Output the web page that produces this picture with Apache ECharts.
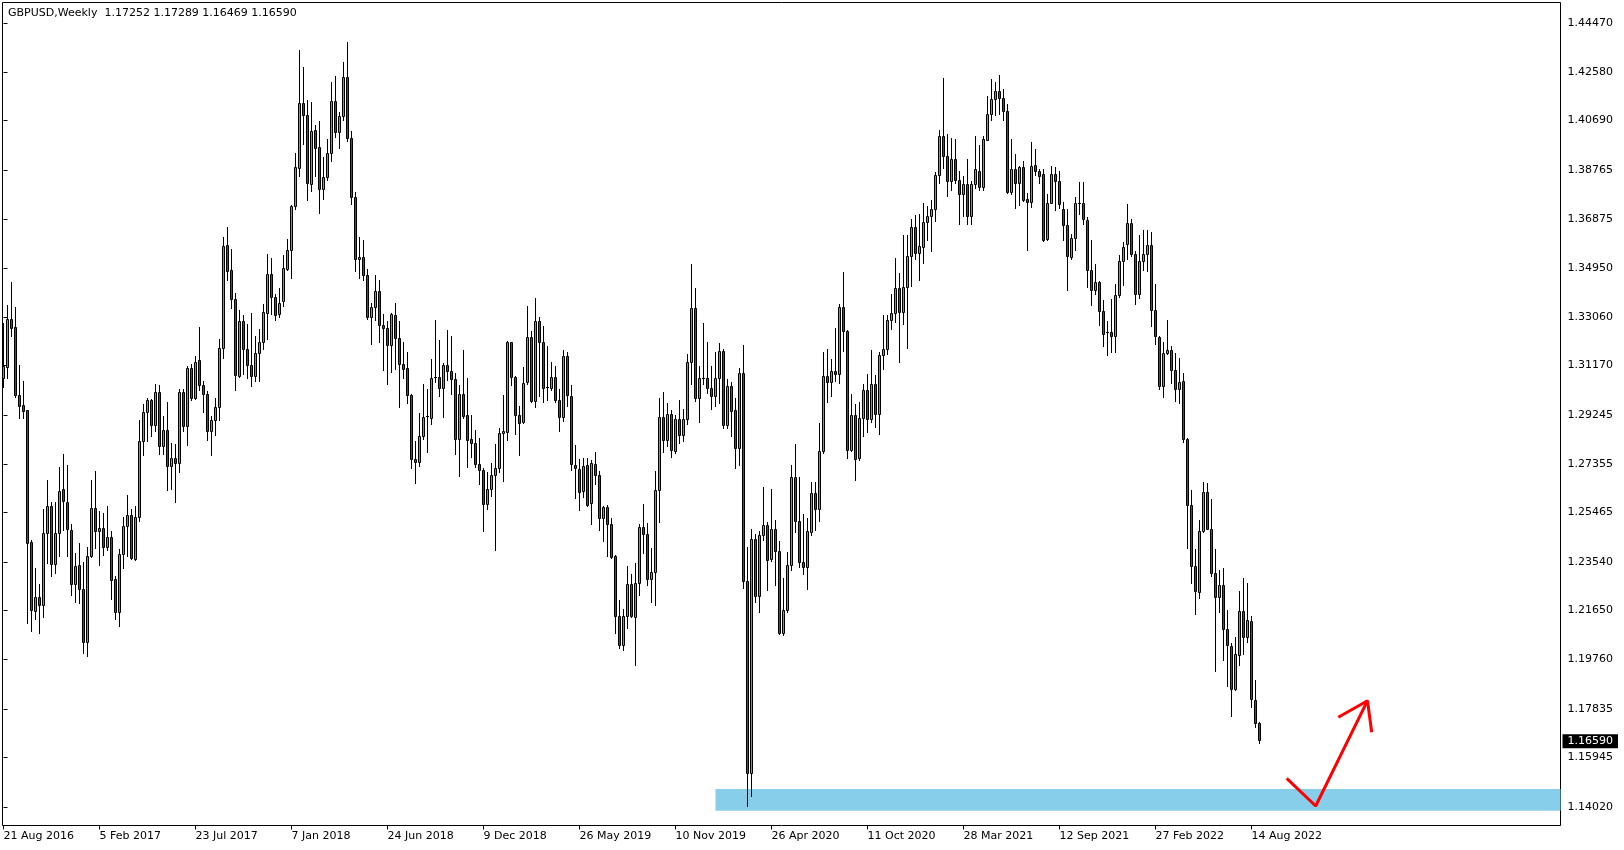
<!DOCTYPE html>
<html><head><meta charset="utf-8">
<script src="https://cdn.jsdelivr.net/npm/echarts@6/dist/echarts.min.js"></script>
<style>html,body{margin:0;padding:0;background:#fff}#c{width:1624px;height:850px}</style>
</head><body><div id="c"></div>
<script>
const headerText = 'GBPUSD,Weekly  1.17252 1.17289 1.16469 1.16590';
const lastClose = 1.16590;
const priceTicks = [1.44470,1.42580,1.40690,1.38765,1.36875,1.34950,1.33060,1.31170,1.29245,1.27355,1.25465,1.23540,1.21650,1.19760,1.17835,1.15945,1.14020];
const dateTicks = ['21 Aug 2016','5 Feb 2017','23 Jul 2017','7 Jan 2018','24 Jun 2018','9 Dec 2018','26 May 2019','10 Nov 2019','26 Apr 2020','11 Oct 2020','28 Mar 2021','12 Sep 2021','27 Feb 2022','14 Aug 2022'];
const weeksPerDateTick = 24;
const totalSlots = 389.25; // visible weekly slots incl. empty future space
// weekly candles [open, high, low, close], from week of 21 Aug 2016
const ohlc = [
[1.3067,1.3279,1.3033,1.3113],[1.3110,1.3352,1.3067,1.3297],[1.3297,1.3440,1.3232,1.3262],[1.3266,1.3343,1.2992,1.3000],
[1.3001,1.3119,1.2912,1.2959],[1.2963,1.3057,1.2912,1.2938],[1.2941,1.2944,1.2116,1.2426],[1.2430,1.2439,1.2083,1.2165],
[1.2162,1.2329,1.2129,1.2217],[1.2217,1.2267,1.2077,1.2184],[1.2184,1.2556,1.2138,1.2465],[1.2465,1.2669,1.2349,1.2570],
[1.2570,1.2586,1.2297,1.2345],[1.2345,1.2586,1.2310,1.2465],[1.2465,1.2722,1.2377,1.2628],[1.2634,1.2773,1.2478,1.2588],
[1.2586,1.2727,1.2375,1.2481],[1.2478,1.2498,1.2223,1.2267],[1.2267,1.2385,1.2196,1.2338],[1.2342,1.2426,1.2193,1.2248],
[1.2249,1.2351,1.2000,1.2042],[1.2042,1.2410,1.1988,1.2377],[1.2377,1.2669,1.2372,1.2560],[1.2560,1.2704,1.2407,1.2472],
[1.2472,1.2552,1.2340,1.2485],[1.2485,1.2543,1.2381,1.2410],[1.2410,1.2568,1.2398,1.2451],[1.2451,1.2472,1.2209,1.2281],
[1.2284,1.2297,1.2129,1.2157],[1.2157,1.2401,1.2103,1.2384],[1.2384,1.2527,1.2329,1.2491],[1.2491,1.2614,1.2375,1.2533],
[1.2533,1.2556,1.2362,1.2368],[1.2364,1.2571,1.2359,1.2527],[1.2527,1.2902,1.2511,1.2823],[1.2823,1.2966,1.2767,1.2935],
[1.2935,1.2990,1.2824,1.2982],[1.2982,1.2987,1.2841,1.2884],[1.2884,1.3044,1.2860,1.3013],[1.3013,1.3041,1.2772,1.2802],
[1.2802,1.2919,1.2772,1.2863],[1.2863,1.2974,1.2631,1.2724],[1.2724,1.2815,1.2634,1.2757],[1.2757,1.2811,1.2586,1.2737],
[1.2737,1.3025,1.2701,1.3013],[1.3013,1.3025,1.2860,1.2880],[1.2880,1.3113,1.2806,1.3104],[1.3104,1.3122,1.2983,1.2988],
[1.2988,1.3152,1.2985,1.3130],[1.3135,1.3266,1.3022,1.3039],[1.3041,1.3056,1.2934,1.3005],[1.3005,1.3018,1.2825,1.2860],
[1.2860,1.2919,1.2767,1.2903],[1.2903,1.2990,1.2847,1.2955],[1.2955,1.3220,1.2903,1.3184],[1.3184,1.3613,1.3143,1.3580],
[1.3584,1.3654,1.3447,1.3482],[1.3485,1.3569,1.3338,1.3375],[1.3375,1.3398,1.3022,1.3078],[1.3074,1.3333,1.3070,1.3290],
[1.3290,1.3310,1.3081,1.3180],[1.3180,1.3275,1.3065,1.3117],[1.3119,1.3318,1.3035,1.3074],[1.3074,1.3229,1.3055,1.3165],
[1.3165,1.3259,1.3055,1.3207],[1.3207,1.3355,1.3178,1.3324],[1.3320,1.3547,1.3217,1.3472],[1.3472,1.3534,1.3314,1.3382],
[1.3382,1.3395,1.3294,1.3311],[1.3316,1.3417,1.3303,1.3359],[1.3365,1.3543,1.3346,1.3495],[1.3492,1.3608,1.3488,1.3565],
[1.3565,1.3738,1.3455,1.3736],[1.3736,1.3942,1.3722,1.3887],[1.3883,1.4343,1.3851,1.4136],[1.4136,1.4276,1.3975,1.4088],
[1.4089,1.4148,1.3758,1.3824],[1.3821,1.4141,1.3793,1.4027],[1.4031,1.4048,1.3851,1.3961],[1.3965,1.4067,1.3709,1.3801],
[1.3801,1.3927,1.3763,1.3848],[1.3848,1.3994,1.3835,1.3940],[1.3940,1.4216,1.3909,1.4144],[1.4144,1.4242,1.4005,1.4023],
[1.4023,1.4102,1.3960,1.4084],[1.4084,1.4293,1.4071,1.4237],[1.4237,1.4373,1.3987,1.3999],[1.4000,1.4028,1.3744,1.3771],
[1.3771,1.3790,1.3482,1.3530],[1.3530,1.3615,1.3456,1.3538],[1.3538,1.3605,1.3447,1.3468],[1.3468,1.3489,1.3298,1.3303],
[1.3303,1.3359,1.3200,1.3343],[1.3343,1.3469,1.3294,1.3406],[1.3406,1.3446,1.3206,1.3272],[1.3271,1.3314,1.3097,1.3261],
[1.3262,1.3290,1.3044,1.3196],[1.3196,1.3318,1.3090,1.3314],[1.3312,1.3359,1.3100,1.3223],[1.3223,1.3290,1.2955,1.3122],
[1.3122,1.3207,1.3068,1.3103],[1.3106,1.3169,1.2970,1.2999],[1.2999,1.3003,1.2718,1.2753],[1.2753,1.2824,1.2660,1.2741],
[1.2741,1.2932,1.2724,1.2841],[1.2841,1.3042,1.2828,1.2916],[1.2916,1.3026,1.2779,1.2918],[1.2912,1.3142,1.2890,1.3067],
[1.3066,1.3294,1.3050,1.3071],[1.3071,1.3216,1.2996,1.3027],[1.3027,1.3126,1.2915,1.3118],[1.3116,1.3255,1.3061,1.3093],
[1.3096,1.3232,1.3003,1.3064],[1.3064,1.3087,1.2770,1.2830],[1.2830,1.3038,1.2688,1.3005],[1.3005,1.3174,1.2912,1.2918],
[1.2924,1.3067,1.2720,1.2825],[1.2830,1.2925,1.2759,1.2814],[1.2815,1.2863,1.2720,1.2732],[1.2731,1.2834,1.2654,1.2709],
[1.2710,1.2718,1.2472,1.2578],[1.2578,1.2702,1.2556,1.2636],[1.2636,1.2735,1.2610,1.2691],[1.2691,1.2812,1.2398,1.2718],
[1.2718,1.2871,1.2701,1.2854],[1.2854,1.2999,1.2666,1.2862],[1.2858,1.3210,1.2826,1.3207],[1.3205,1.3208,1.3038,1.3070],
[1.3071,1.3074,1.2850,1.2922],[1.2924,1.2957,1.2767,1.2893],[1.2895,1.3108,1.2893,1.3048],[1.3050,1.3348,1.3044,1.3227],
[1.3227,1.3250,1.2974,1.2977],[1.2977,1.3378,1.2953,1.3289],[1.3289,1.3304,1.2996,1.3207],[1.3208,1.3268,1.2973,1.3029],
[1.3031,1.3193,1.2981,1.3029],[1.3029,1.3129,1.3022,1.3071],[1.3071,1.3115,1.2973,1.2981],[1.2983,1.3025,1.2860,1.2916],
[1.2916,1.3174,1.2899,1.3153],[1.3153,1.3167,1.2960,1.3000],[1.2997,1.3038,1.2711,1.2731],[1.2729,1.2808,1.2601,1.2718],
[1.2715,1.2754,1.2553,1.2625],[1.2627,1.2757,1.2604,1.2724],[1.2727,1.2757,1.2569,1.2575],[1.2582,1.2750,1.2498,1.2736],
[1.2731,1.2780,1.2656,1.2689],[1.2691,1.2705,1.2476,1.2522],[1.2522,1.2571,1.2433,1.2566],[1.2566,1.2575,1.2375,1.2500],
[1.2500,1.2521,1.2368,1.2372],[1.2375,1.2381,1.2077,1.2141],[1.2141,1.2206,1.2018,1.2029],[1.2029,1.2171,1.2009,1.2141],
[1.2141,1.2336,1.2096,1.2268],[1.2268,1.2307,1.2138,1.2141],[1.2138,1.2349,1.1951,1.2271],[1.2270,1.2498,1.2225,1.2489],
[1.2489,1.2577,1.2385,1.2460],[1.2461,1.2502,1.2262,1.2287],[1.2287,1.2407,1.2198,1.2314],[1.2314,1.2705,1.2185,1.2632],
[1.2632,1.2989,1.2509,1.2915],[1.2915,1.3012,1.2780,1.2825],[1.2825,1.2971,1.2801,1.2927],[1.2927,1.2941,1.2761,1.2787],
[1.2784,1.2923,1.2777,1.2907],[1.2907,1.2982,1.2814,1.2846],[1.2846,1.2948,1.2821,1.2907],[1.2907,1.3162,1.2889,1.3129],
[1.3129,1.3511,1.3043,1.3339],[1.3339,1.3418,1.2979,1.2989],[1.2989,1.3115,1.2897,1.3068],[1.3064,1.3282,1.3043,1.3068],
[1.3068,1.3207,1.3009,1.3027],[1.3028,1.3115,1.2948,1.2997],[1.2997,1.3169,1.2957,1.3068],[1.3068,1.3203,1.2968,1.3173],
[1.3173,1.3180,1.2873,1.2884],[1.2884,1.3064,1.2873,1.3036],[1.3036,1.3050,1.2843,1.2938],[1.2941,1.2989,1.2719,1.2795],
[1.2795,1.3105,1.2730,1.3088],[1.3088,1.3197,1.2250,1.2280],[1.2280,1.2412,1.1404,1.1534],[1.1534,1.2482,1.1442,1.2442],
[1.2442,1.2461,1.2198,1.2219],[1.2219,1.2474,1.2157,1.2457],[1.2457,1.2645,1.2437,1.2497],[1.2497,1.2508,1.2242,1.2359],
[1.2364,1.2637,1.2355,1.2480],[1.2480,1.2515,1.2262,1.2396],[1.2396,1.2434,1.2071,1.2075],[1.2075,1.2291,1.2070,1.2167],
[1.2164,1.2389,1.2157,1.2339],[1.2339,1.2727,1.2321,1.2682],[1.2682,1.2809,1.2468,1.2512],[1.2512,1.2682,1.2334,1.2352],
[1.2352,1.2539,1.2307,1.2332],[1.2332,1.2523,1.2246,1.2471],[1.2468,1.2664,1.2457,1.2621],[1.2621,1.2664,1.2475,1.2557],
[1.2557,1.2893,1.2512,1.2784],[1.2784,1.3166,1.2777,1.3075],[1.3075,1.3180,1.2975,1.3053],[1.3053,1.3139,1.2998,1.3094],
[1.3094,1.3261,1.3054,1.3081],[1.3081,1.3354,1.3047,1.3343],[1.3343,1.3479,1.3170,1.3250],[1.3249,1.3255,1.2757,1.2787],
[1.2787,1.3003,1.2783,1.2925],[1.2925,1.2964,1.2670,1.2753],[1.2757,1.2975,1.2750,1.2912],[1.2912,1.3042,1.2841,1.3022],
[1.3022,1.3081,1.2857,1.2906],[1.2906,1.3174,1.2897,1.3042],[1.3042,1.3077,1.2876,1.2928],[1.2928,1.3167,1.2850,1.3158],
[1.3158,1.3310,1.3103,1.3180],[1.3180,1.3310,1.3162,1.3294],[1.3294,1.3395,1.3258,1.3320],[1.3318,1.3535,1.3284,1.3415],
[1.3415,1.3476,1.3128,1.3324],[1.3324,1.3622,1.3275,1.3421],[1.3421,1.3622,1.3183,1.3542],[1.3542,1.3683,1.3424,1.3654],
[1.3654,1.3702,1.3530,1.3553],[1.3553,1.3706,1.3447,1.3579],[1.3576,1.3745,1.3514,1.3674],[1.3674,1.3734,1.3605,1.3698],
[1.3698,1.3758,1.3560,1.3724],[1.3724,1.3867,1.3676,1.3854],[1.3854,1.4032,1.3825,1.4008],[1.4008,1.4233,1.3881,1.3929],
[1.3929,1.4013,1.3773,1.3832],[1.3832,1.4000,1.3797,1.3918],[1.3916,1.3996,1.3823,1.3836],[1.3836,1.3873,1.3665,1.3782],
[1.3782,1.3851,1.3698,1.3819],[1.3819,1.3916,1.3665,1.3696],[1.3696,1.3832,1.3665,1.3822],[1.3822,1.4006,1.3806,1.3877],
[1.3873,1.3974,1.3797,1.3808],[1.3808,1.4006,1.3797,1.3996],[1.3993,1.4164,1.3991,1.4091],[1.4091,1.4230,1.4071,1.4151],
[1.4151,1.4216,1.4088,1.4181],[1.4181,1.4246,1.4091,1.4155],[1.4155,1.4188,1.4069,1.4104],[1.4104,1.4130,1.3785,1.3789],
[1.3789,1.3996,1.3782,1.3880],[1.3877,1.3938,1.3727,1.3825],[1.3825,1.3892,1.3738,1.3887],[1.3887,1.3909,1.3754,1.3758],
[1.3761,1.3786,1.3566,1.3751],[1.3751,1.3983,1.3731,1.3892],[1.3895,1.3957,1.3854,1.3871],[1.3873,1.3877,1.3825,1.3851],
[1.3858,1.3877,1.3599,1.3605],[1.3608,1.3780,1.3605,1.3747],[1.3747,1.3890,1.3745,1.3860],[1.3858,1.3886,1.3721,1.3832],
[1.3831,1.3870,1.3729,1.3743],[1.3725,1.3750,1.3602,1.3661],[1.3661,1.3725,1.3407,1.3541],[1.3537,1.3626,1.3530,1.3612],
[1.3612,1.3772,1.3565,1.3746],[1.3746,1.3828,1.3704,1.3748],[1.3746,1.3827,1.3666,1.3683],[1.3680,1.3694,1.3421,1.3485],
[1.3485,1.3605,1.3351,1.3410],[1.3410,1.3510,1.3393,1.3438],[1.3438,1.3445,1.3273,1.3328],[1.3328,1.3369,1.3191,1.3239],
[1.3245,1.3287,1.3157,1.3242],[1.3247,1.3372,1.3167,1.3230],[1.3230,1.3432,1.3167,1.3389],[1.3389,1.3546,1.3383,1.3523],
[1.3523,1.3595,1.3428,1.3577],[1.3586,1.3743,1.3530,1.3668],[1.3668,1.3685,1.3541,1.3548],[1.3548,1.3562,1.3353,1.3393],
[1.3393,1.3623,1.3379,1.3523],[1.3523,1.3640,1.3485,1.3548],[1.3548,1.3640,1.3482,1.3584],[1.3584,1.3636,1.3269,1.3332],
[1.3332,1.3432,1.3199,1.3230],[1.3228,1.3230,1.3023,1.3035],[1.3035,1.3206,1.2994,1.3163],[1.3163,1.3294,1.3160,1.3177],
[1.3177,1.3191,1.3047,1.3099],[1.3099,1.3164,1.2976,1.3023],[1.3023,1.3146,1.2969,1.3051],[1.3057,1.3086,1.2818,1.2831],
[1.2831,1.2835,1.2407,1.2573],[1.2573,1.2633,1.2270,1.2337],[1.2337,1.2404,1.2149,1.2241],[1.2234,1.2517,1.2213,1.2474],
[1.2471,1.2662,1.2467,1.2623],[1.2623,1.2658,1.2479,1.2482],[1.2482,1.2595,1.2298,1.2309],[1.2309,1.2404,1.1928,1.2216],
[1.2216,1.2319,1.2157,1.2262],[1.2262,1.2330,1.1973,1.2090],[1.2090,1.2164,1.1870,1.2029],[1.2027,1.2036,1.1754,1.1860],
[1.1857,1.2062,1.1853,1.1994],[1.1990,1.2241,1.1952,1.2161],[1.2161,1.2291,1.1994,1.2060],[1.2060,1.2270,1.2041,1.2125],
[1.2124,1.2142,1.1789,1.1820],[1.1817,1.1895,1.1711,1.1726],[1.17252,1.17289,1.16469,1.16590]
];
// support zone (price band) starting at a week index, drawn to the right edge
const zoneTop = 1.14719, zoneBottom = 1.13875, zoneStartWeek = 178;
// hand-drawn red arrow, in [week index, price]
const arrowStroke = [[320.8,1.15135],[328.05,1.14058],[341.0,1.18150]];
const arrowHead = [[333.7,1.17505],[341.0,1.18150],[342.05,1.16922]];

const FONT = 'DejaVu Sans';
const UP = '#32cd32', DOWN = '#e01010';
const dateTickWeeks = dateTicks.map((_, k) => k * weeksPerDateTick);

const chart = echarts.init(document.getElementById('c'), null, {renderer: 'canvas'});
chart.setOption({
  animation: false,
  backgroundColor: '#ffffff',
  title: {text: headerText, left: 8, top: 8, padding: 0,
    textStyle: {fontFamily: FONT, fontSize: 11, fontWeight: 'normal', color: '#000'}},
  grid: {left: 2.5, top: 2.5, width: 1558, height: 823, show: true, borderColor: '#000', borderWidth: 1, backgroundColor: 'transparent'},
  xAxis: {type: 'value', min: -0.25, max: totalSlots,
    splitLine: {show: false}, axisLine: {show: false},
    axisTick: {show: true, length: 4, customValues: dateTickWeeks, lineStyle: {color: '#000'}},
    axisLabel: {customValues: dateTickWeeks, formatter: v => dateTicks[Math.round(v / weeksPerDateTick)] || '',
      align: 'left', margin: 5, color: '#000', fontFamily: FONT, fontSize: 11, showMinLabel: true, showMaxLabel: true}},
  yAxis: {type: 'value', position: 'right', min: 1.13301, max: 1.45278,
    splitLine: {show: false}, axisLine: {show: false},
    axisTick: {show: true, length: 4, customValues: priceTicks, lineStyle: {color: '#000'}},
    axisLabel: {customValues: priceTicks, formatter: v => v.toFixed(5), margin: 7, color: '#000', fontFamily: FONT, fontSize: 11}},
  series: [
    {type: 'line', name: 'zone', data: [], z: 1, silent: true,
      markArea: {silent: true, itemStyle: {color: '#87ceeb', opacity: 1},
        data: [[{xAxis: zoneStartWeek, yAxis: zoneTop}, {xAxis: totalSlots, yAxis: zoneBottom}]]}},
    {type: 'custom', name: 'GBPUSD', z: 3, silent: true,
      data: ohlc.map((r, i) => [i, r[0], r[1], r[2], r[3]]),
      encode: {x: 0, y: [1, 2, 3, 4]},
      renderItem: function (params, api) {
        const i = api.value(0), o = api.value(1), h = api.value(2), l = api.value(3), c = api.value(4);
        const pO = api.coord([i, o]), pC = api.coord([i, c]), pH = api.coord([i, h]), pL = api.coord([i, l]);
        const x = Math.floor(pO[0]);
        const yo = Math.floor(pO[1]), yc = Math.floor(pC[1]), yh = Math.floor(pH[1]), yl = Math.floor(pL[1]);
        const top = Math.min(yo, yc), bot = Math.max(yo, yc);
        const children = [{type: 'line', shape: {x1: x + 0.5, y1: yh, x2: x + 0.5, y2: yl + 1}, style: {stroke: '#000', lineWidth: 1}}];
        if (bot - top >= 2) {
          children.push({type: 'rect', shape: {x: x - 0.5, y: top + 0.5, width: 2, height: bot - top},
            style: {fill: c > o ? UP : DOWN, stroke: '#000', lineWidth: 1}});
        } else {
          children.push({type: 'line', shape: {x1: x - 1, y1: top + 0.5, x2: x + 2, y2: top + 0.5}, style: {stroke: '#000', lineWidth: 1}});
        }
        return {type: 'group', children: children};
      }},
    {type: 'line', name: 'lastPrice', data: [], z: 5, silent: true,
      markLine: {silent: true, symbol: ['none', 'none'], lineStyle: {color: 'rgba(0,0,0,0)', width: 1, type: 'solid'},
        data: [{yAxis: lastClose}],
        label: {show: true, position: 'end', distance: 2, offset: [0, 11], formatter: () => lastClose.toFixed(5),
          align: 'left', verticalAlign: 'middle',
          backgroundColor: '#000', color: '#fff', fontFamily: FONT, fontSize: 11, lineHeight: 13, padding: [1, 5, 0, 5]}}},
    {type: 'line', name: 'arrow', data: arrowStroke, z: 4, silent: true, symbol: 'none', showSymbol: false,
      lineStyle: {color: '#ff0000', width: 3}},
    {type: 'line', name: 'arrowHead', data: arrowHead, z: 4, silent: true, symbol: 'none', showSymbol: false,
      lineStyle: {color: '#ff0000', width: 3}}
  ]
});
</script>
</body></html>
